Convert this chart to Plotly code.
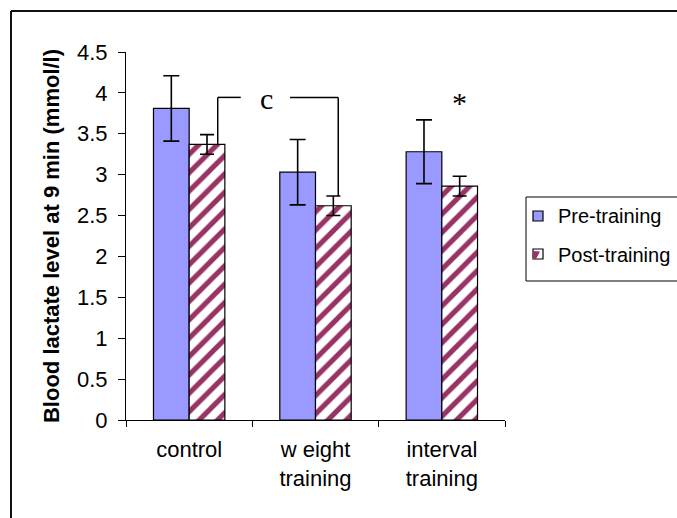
import plotly.graph_objects as go

# Group labels and measured means / standard errors
groups = ["control", "w eight<br>training", "interval<br>training"]
pre_values = [3.81, 3.03, 3.28]
pre_errors = [0.40, 0.40, 0.39]
post_values = [3.37, 2.62, 2.86]
post_errors = [0.12, 0.12, 0.12]

series_names = ["Pre-training", "Post-training"]
pre_color = "#9999FF"
post_color = "#993366"

y_ticks = [0, 0.5, 1, 1.5, 2, 2.5, 3, 3.5, 4, 4.5]

SANS = "Liberation Sans, Arial, sans-serif"
SERIF = "Liberation Serif, Times New Roman, serif"

# plot area in pixels (left, right, top, bottom)
PL, PR, PT, PB = 126, 505, 52, 420


def px(xp):
    return (xp - PL) / (PR - PL)


def py(yp):
    return (PB - yp) / (PB - PT)


fig = go.Figure()

fig.add_trace(go.Bar(
    name=series_names[0], x=groups, y=pre_values,
    marker=dict(color=pre_color, line=dict(color="black", width=1.2)),
    error_y=dict(type="data", array=pre_errors, color="black", thickness=1.6, width=8),
))
fig.add_trace(go.Bar(
    name=series_names[1], x=groups, y=post_values,
    marker=dict(color="white", line=dict(color="black", width=1.2),
                pattern=dict(shape="/", fgcolor=post_color, bgcolor="white",
                             fgopacity=1, size=13, solidity=0.4)),
    error_y=dict(type="data", array=post_errors, color="black", thickness=1.6, width=7),
))

# Significance bracket between control and weight training
bracket_top = 3.945
c_left = [(0.226, post_values[0]), (0.226, bracket_top), (0.408, bracket_top)]
c_right = [(0.798, bracket_top), (1.180, bracket_top), (1.180, post_values[1] + post_errors[1])]
shapes = []
for pts in (c_left, c_right):
    for (xa, ya), (xb, yb) in zip(pts[:-1], pts[1:]):
        shapes.append(dict(type="line", xref="x", yref="y", x0=xa, y0=ya, x1=xb, y1=yb,
                           line=dict(color="black", width=1.5)))

# Chart-area frame (top and left edges)
shapes.append(dict(type="line", xref="paper", yref="paper",
                   x0=px(11), y0=py(11), x1=px(700), y1=py(11),
                   line=dict(color="#111111", width=2)))
shapes.append(dict(type="line", xref="paper", yref="paper",
                   x0=px(11), y0=py(11), x1=px(11), y1=py(540),
                   line=dict(color="#111111", width=2)))

# Legend box with swatches
shapes.append(dict(type="rect", xref="paper", yref="paper",
                   x0=px(526), y0=py(197), x1=px(700), y1=py(281),
                   line=dict(color="black", width=1), fillcolor="white", layer="below"))
shapes.append(dict(type="rect", xref="paper", yref="paper",
                   x0=px(533), y0=py(211), x1=px(543), y1=py(221),
                   line=dict(color="black", width=1.2), fillcolor=pre_color))
shapes.append(dict(type="rect", xref="paper", yref="paper",
                   x0=px(533), y0=py(249), x1=px(543), y1=py(259),
                   line=dict(color="black", width=1.2), fillcolor="white"))
tri = "M {} {} L {} {} L {} {} L {} {} Z".format(
    px(533), py(259), px(533), py(251), px(540), py(251.5), px(536), py(259))
shapes.append(dict(type="path", xref="paper", yref="paper", path=tri,
                   line=dict(width=0), fillcolor=post_color))

annotations = [
    dict(x=0.614, y=3.93, xref="x", yref="y", text="c", showarrow=False,
         font=dict(family=SERIF, size=30, color="black")),
    dict(x=2.139, y=3.88, xref="x", yref="y", text="*", showarrow=False,
         font=dict(family=SERIF, size=30, color="black")),
]
for name, yc in zip(series_names, (216, 255)):
    annotations.append(dict(x=px(556), y=py(yc), xref="paper", yref="paper",
                            xanchor="left", yanchor="middle", text=name, showarrow=False,
                            font=dict(family=SANS, size=20, color="black")))

fig.update_layout(
    width=677, height=518,
    margin=dict(l=PL, r=677 - PR, t=PT, b=518 - PB),
    paper_bgcolor="white", plot_bgcolor="white",
    font=dict(family=SANS, size=22, color="black"),
    barmode="group", bargap=0.435, bargroupgap=0,
    shapes=shapes, annotations=annotations,
    showlegend=False,
    xaxis=dict(
        showline=True, linecolor="black", linewidth=1,
        ticks="outside", tickson="boundaries", ticklen=6, tickcolor="black",
        showgrid=False, ticklabelstandoff=10,
        tickfont=dict(family=SANS, size=22, color="black"),
    ),
    yaxis=dict(
        range=[0, 4.5], tickvals=y_ticks, ticks="outside", ticklen=7,
        tickcolor="black", showline=True, linecolor="black", linewidth=1,
        showgrid=False, zeroline=False, ticklabelstandoff=6,
        tickfont=dict(family=SANS, size=22, color="black"),
        title=dict(text="<b>Blood lactate level at 9 min (mmol/l)</b>",
                   font=dict(family=SANS, size=22, color="black"), standoff=11),
    ),
)

fig.write_html("out.html")
